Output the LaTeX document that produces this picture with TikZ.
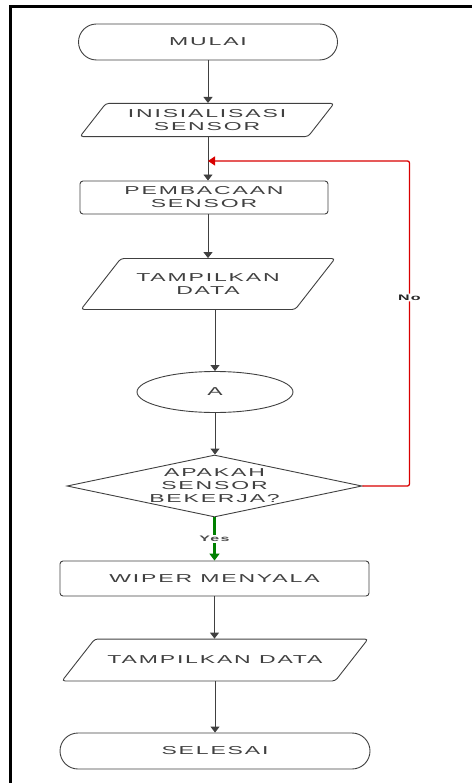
\documentclass[tikz,border=0pt]{standalone}
\usepackage{fontspec}
\setmainfont{Liberation Sans}[FakeStretch=2.0,LetterSpace=16]
\usetikzlibrary{shapes.geometric,shapes.misc,arrows.meta,calc}
\begin{document}
\begin{tikzpicture}
                        [x=1pt,y=-1pt,
                        base/.style={draw=black!75,line width=0.9pt,text=black!75,align=center,inner sep=0pt,
                          font=\fontsize{11.5}{13}\selectfont},
                        term/.style={base,rounded rectangle,minimum height=36pt},
                        proc/.style={base,rectangle,rounded corners=3pt},
                        io/.style={base,trapezium,trapezium left angle=52,trapezium right angle=128,
                          trapezium stretches body,rounded corners=3pt},
                        conn/.style={base,ellipse,minimum width=156pt,minimum height=41pt},
                        dec/.style={base,diamond,aspect=4.76,minimum width=295pt,minimum height=62pt},
                        line/.style={draw=black!75,line width=0.9pt,-{Triangle[width=9pt,length=6pt]}},
                        no/.style={draw=red!85!black,line width=1.3pt,rounded corners=2pt,
                          -{Triangle[width=9pt,length=7pt]}},
                        yes/.style={draw=green!50!black,line width=2.6pt,-{Triangle[width=10pt,length=7pt]}},
                        lbl/.style={fill=white,inner sep=1pt,font=\fontsize{8}{8}\selectfont\bfseries}]
                        \useasboundingbox (0,0) rectangle (472,783);
                        %Bingkai
                        \draw [line width=3pt] (10,783) -- (10,7) -- (472,7);
                        %Simbol
                        \node [term,minimum width=259pt] (mulai) at (208,42) {MULAI};
                        \node [io,minimum width=254pt,inner ysep=6pt] (inis) at (207,120) {INISIALISASI\\SENSOR};
                        \node [proc,minimum width=248pt,minimum height=33pt] (baca) at (204,197.5) {PEMBACAAN\\SENSOR};
                        \node [io,minimum width=254pt,inner ysep=15pt] (tampil) at (208,284) {TAMPILKAN\\DATA};
                        \node [conn] (a) at (215,392) {A};
                        \node [dec] (cek) at (214.5,486) {APAKAH\\SENSOR\\BEKERJA?};
                        \node [proc,minimum width=309pt,minimum height=35pt] (wiper) at (214.5,578.5) {WIPER MENYALA};
                        \node [io,minimum width=306pt,inner ysep=17pt] (tampilb) at (215,660) {TAMPILKAN DATA};
                        \node [term,minimum width=310pt] (selesai) at (215,751) {SELESAI};
                        %Panah
                        \coordinate (back) at ($(mulai.south |- inis.south)!0.55!(mulai.south |- baca.north)$);
                        \draw [line] (mulai.south) -- (mulai.south |- inis.north);
                        \draw [line] (mulai.south |- inis.south) -- (mulai.south |- baca.north);
                        \draw [line] (mulai.south |- baca.south) -- (mulai.south |- tampil.north);
                        \draw [line] (a |- tampil.south) -- (a.north);
                        \draw [line] (a.south) -- (a.south |- cek.north);
                        \draw [yes] (cek.south) -- node [lbl,text=black!70] {Yes} (cek.south |- wiper.north);
                        \draw [line] (wiper.south) -- (wiper.south |- tampilb.north);
                        \draw [line] (tampilb.south) -- (tampilb.south |- selesai.north);
                        \draw [no] (cek.east) -- ++(47,0) |- node [lbl,pos=0.29,text=black!85] {No} (back);
                \end{tikzpicture}
\end{document}
